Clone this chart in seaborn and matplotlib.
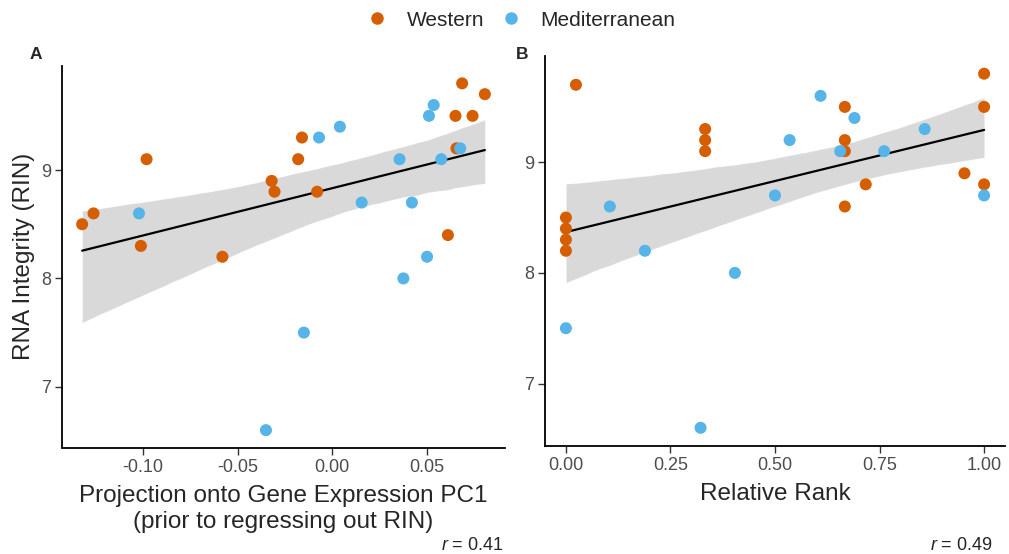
import matplotlib
matplotlib.use("Agg")  # headless backend
import pandas as pd
import matplotlib.pyplot as plt
from matplotlib.lines import Line2D
import seaborn as sns

# Panel A: projection onto gene expression PC1 vs RIN
pc1_western = [-0.132, -0.126, -0.098, -0.101, -0.058, -0.032, -0.0305, -0.018,
               -0.016, -0.008, 0.061, 0.065, 0.0655, 0.0685, 0.074, 0.0805]
rin_pc1_western = [8.5, 8.6, 9.1, 8.3, 8.2, 8.9, 8.8, 9.1,
                   9.3, 8.8, 8.4, 9.5, 9.2, 9.8, 9.5, 9.7]
pc1_med = [-0.102, -0.035, -0.015, -0.007, 0.004, 0.0155, 0.0355,
           0.0375, 0.042, 0.050, 0.051, 0.0535, 0.0575, 0.0675]
rin_pc1_med = [8.6, 6.6, 7.5, 9.3, 9.4, 8.7, 9.1,
               8.0, 8.7, 8.2, 9.5, 9.6, 9.1, 9.2]

# Panel B: relative rank vs RIN
rank_western = [0.024, 0.0, 0.0, 0.0, 0.0, 0.333, 0.333, 0.333, 0.667,
                0.667, 0.667, 0.667, 0.717, 0.953, 1.0, 1.0, 1.0]
rin_rank_western = [9.7, 8.5, 8.4, 8.3, 8.2, 9.3, 9.2, 9.1, 9.5,
                    9.2, 9.1, 8.6, 8.8, 8.9, 9.8, 9.5, 8.8]
rank_med = [0.0, 0.105, 0.189, 0.322, 0.404, 0.5, 0.535, 0.609, 0.656,
            0.69, 0.761, 0.858, 1.0]
rin_rank_med = [7.5, 8.6, 8.2, 6.6, 8.0, 8.7, 9.2, 9.6, 9.1,
                9.4, 9.1, 9.3, 8.7]

groups = ["Western", "Mediterranean"]
palette = {"Western": "#D55E00", "Mediterranean": "#56B4E9"}
r_labels = ["0.41", "0.49"]

W, H = 1009, 554


def make_df(xw, yw, xm, ym):
    return pd.DataFrame({
        "x": list(xw) + list(xm),
        "y": list(yw) + list(ym),
        "group": [groups[0]] * len(xw) + [groups[1]] * len(xm),
    })


def px_axes(fig, left, right, top, bottom):
    return fig.add_axes([left / W, 1 - bottom / H, (right - left) / W, (bottom - top) / H])


def expand(vals, frac=0.05):
    lo, hi = min(vals), max(vals)
    pad = (hi - lo) * frac
    return lo - pad, hi + pad


sns.set_style("ticks")
plt.rcParams["font.family"] = ["Liberation Sans", "DejaVu Sans"]
plt.rcParams["mathtext.fontset"] = "custom"
plt.rcParams["mathtext.it"] = "Liberation Sans:italic"
plt.rcParams["mathtext.rm"] = "Liberation Sans"

fig = plt.figure(figsize=(W / 100, H / 100), dpi=100)
ax_a = px_axes(fig, 62, 505, 66, 447.5)
ax_b = px_axes(fig, 545, 1005, 56, 445.5)

df_a = make_df(pc1_western, rin_pc1_western, pc1_med, rin_pc1_med)
df_b = make_df(rank_western, rin_rank_western, rank_med, rin_rank_med)

for ax, df in [(ax_a, df_a), (ax_b, df_b)]:
    sns.regplot(data=df, x="x", y="y", ax=ax, scatter=False, ci=95, n_boot=2000, seed=11,
                color="black", line_kws={"linewidth": 1.6})
    sns.scatterplot(data=df, x="x", y="y", hue="group", palette=palette,
                    hue_order=groups, s=75, linewidth=0, legend=False, ax=ax, zorder=3)
    ax.set_ylim(*expand(df["y"]))
    ax.set_xlim(*expand(df["x"]))
    ax.set_yticks([7, 8, 9])
    ax.tick_params(axis="both", length=5, width=1, color="#333333",
                   labelsize=13, labelcolor="#4D4D4D", pad=3)
    for side in ["left", "bottom"]:
        ax.spines[side].set_linewidth(1.3)
        ax.spines[side].set_color("black")
    sns.despine(ax=ax)

ax_a.set_xticks([-0.10, -0.05, 0.00, 0.05])
ax_a.set_xticklabels(["-0.10", "-0.05", "0.00", "0.05"])
ax_b.set_xticks([0.0, 0.25, 0.5, 0.75, 1.0])
ax_b.set_xticklabels(["0.00", "0.25", "0.50", "0.75", "1.00"])
ax_b.set_yticklabels(["7", "8", "9"])

ax_a.set_xlabel("Projection onto Gene Expression PC1\n(prior to regressing out RIN)",
                fontsize=17.5, labelpad=7, linespacing=1.2)
ax_a.set_ylabel("RNA Integrity (RIN)", fontsize=17.5, labelpad=4)
ax_b.set_xlabel("Relative Rank", fontsize=17.5, labelpad=7)
ax_b.set_ylabel("")

# panel tags
fig.text(36 / W, 1 - 54 / H, "A", fontsize=12.5, fontweight="bold", ha="center", va="center")
fig.text(522 / W, 1 - 54 / H, "B", fontsize=12.5, fontweight="bold", ha="center", va="center")

# correlation labels
fig.text(504 / W, 1 - 545 / H, "$r$ = " + r_labels[0], fontsize=13, ha="right", va="center")
fig.text(993 / W, 1 - 545 / H, "$r$ = " + r_labels[1], fontsize=13, ha="right", va="center")

handles = [Line2D([], [], marker="o", linestyle="", markersize=9, markeredgewidth=0,
                  color=palette[g]) for g in groups]
fig.legend(handles, groups, loc="center", bbox_to_anchor=(521 / W, 1 - 20 / H), ncol=2,
           frameon=False, fontsize=15, handlelength=1.0, handletextpad=0.9,
           columnspacing=0.8)

fig.savefig("out.png", dpi=100)
plt.close(fig)
